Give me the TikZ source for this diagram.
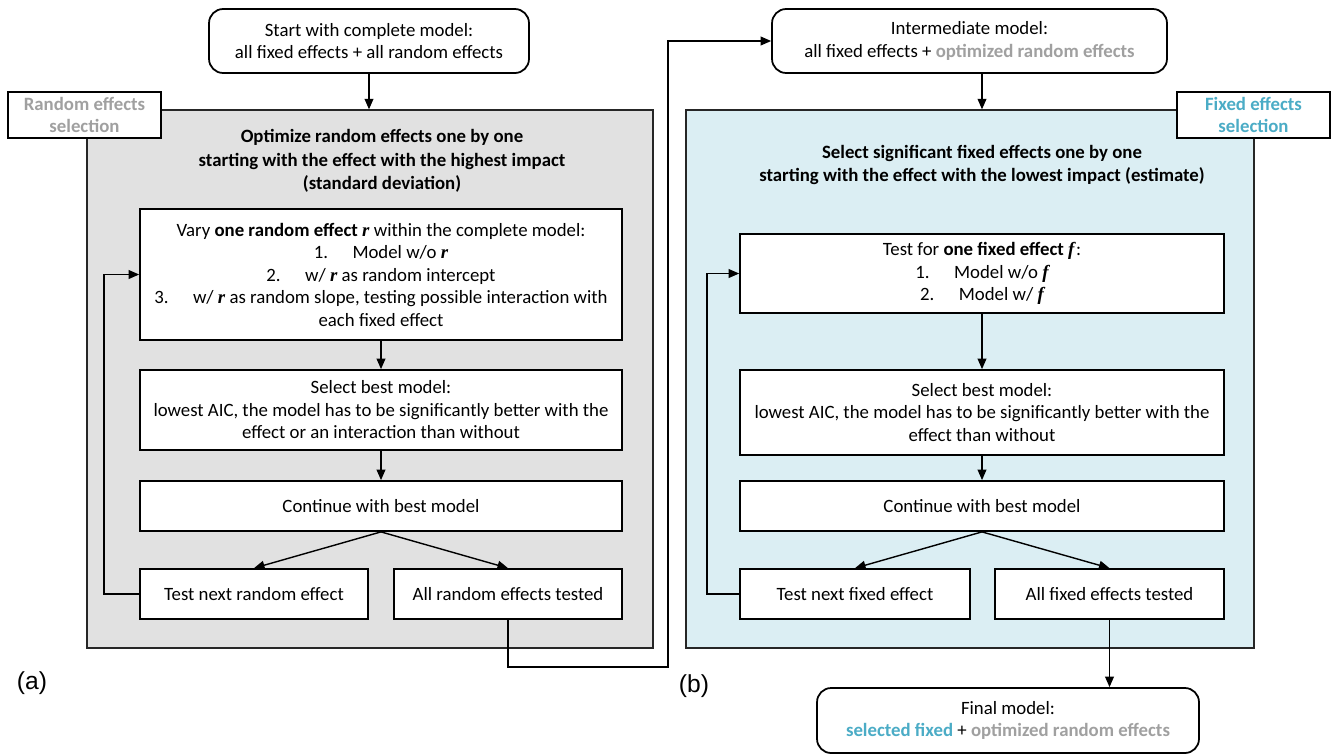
\documentclass[tikz,border=0pt]{standalone}
\usepackage{fontspec}
\setmainfont{Carlito}
\newfontfamily\varfont{Liberation Serif}
\newfontfamily\panelfont{Liberation Sans}
\usetikzlibrary{arrows.meta}

\definecolor{panelgray}{HTML}{E1E1E1}
\definecolor{panelblue}{HTML}{DBEEF3}
\definecolor{labelgray}{HTML}{A0A0A0}
\definecolor{labelblue}{HTML}{4BACC6}
\newcommand{\effvar}[1]{{\varfont\bfseries\itshape #1}}

\begin{document}
\begin{tikzpicture}[x=0.02cm, y=-0.02cm, >={Triangle[length=6pt,width=5pt]},
    every node/.style={font=\fontsize{10.7}{12.8}\selectfont, align=center, inner sep=2pt},
    box/.style={draw, line width=1pt, fill=white, minimum height=1cm},
    modelbox/.style={box, rounded corners=8pt, minimum height=1.28cm},
    panel/.style={draw=black!85, line width=0.8pt},
    tagbox/.style={draw, line width=1pt, fill=white, minimum width=3.06cm, minimum height=0.92cm,
      font=\fontsize{10.7}{12.8}\selectfont\bfseries},
    titletext/.style={font=\fontsize{10.7}{13.3}\selectfont\bfseries},
    flow/.style={line width=0.8pt}]
  \useasboundingbox (0,0) rectangle (1331,755);

  % Panels
  \node[panel, fill=panelgray, minimum width=11.32cm, minimum height=10.76cm] (randpanel) at (370,379) {};
  \node[panel, fill=panelblue, minimum width=11.36cm, minimum height=10.76cm] (fixpanel) at (970,379) {};
  \node[tagbox, text=labelgray] (randtag) at (84.5,115) {Random effects\\selection};
  \node[tagbox, text=labelblue] (fixtag) at (1253.5,115) {Fixed effects\\selection};

  % Models outside the panels
  \node[modelbox, minimum width=6.4cm] (start) at (369,41)
    {Start with complete model:\\all fixed effects + all random effects};
  \node[modelbox, minimum width=7.9cm] (inter) at (969.5,41)
    {Intermediate model:\\all fixed effects + \textcolor{labelgray}{\bfseries optimized random effects}};
  \node[modelbox, minimum width=7.64cm, minimum height=1.3cm] (final) at (1008,720.5)
    {Final model:\\\textcolor{labelblue}{\bfseries selected fixed} + \textcolor{labelgray}{\bfseries optimized random effects}};

  % Random effects selection
  \node[titletext] (randtitle) at (382,161)
    {Optimize random effects one by one\\starting with the effect with the highest impact\\(standard deviation)};
  \node[box, minimum width=9.64cm, minimum height=2.62cm] (vary) at (381,274.5)
    {Vary \textbf{one random effect \effvar{r}} within the complete model:\\
     1.\hspace{1.3em}Model w/o \effvar{r}\\
     2.\hspace{1.3em}w/ \effvar{r} as random intercept\\
     3.\hspace{1.3em}w/ \effvar{r} as random slope, testing possible interaction with\\
     each fixed effect};
  \node[box, minimum width=9.64cm, minimum height=1.6cm] (randbest) at (381,410)
    {Select best model:\\lowest AIC, the model has to be significantly better with the\\effect or an interaction than without};
  \node[box, minimum width=9.64cm] (randcont) at (381,506) {Continue with best model};
  \node[box, minimum width=4.56cm] (randnext) at (254,594) {Test next random effect};
  \node[box, minimum width=4.56cm] (randdone) at (508,594) {All random effects tested};

  % Fixed effects selection
  \node[titletext] (fixtitle) at (982,165)
    {Select significant fixed effects one by one\\starting with the effect with the lowest impact (estimate)};
  \node[box, minimum width=9.68cm, minimum height=1.58cm] (fixtest) at (982,273.5)
    {Test for \textbf{one fixed effect \effvar{f}}:\\
     1.\hspace{1.3em}Model w/o \effvar{f}\\
     2.\hspace{1.3em}Model w/ \effvar{f}};
  \node[box, minimum width=9.68cm, minimum height=1.7cm] (fixbest) at (982,412.5)
    {Select best model:\\lowest AIC, the model has to be significantly better with the\\effect than without};
  \node[box, minimum width=9.68cm] (fixcont) at (982,506) {Continue with best model};
  \node[box, minimum width=4.6cm] (fixnext) at (855,594) {Test next fixed effect};
  \node[box, minimum width=4.58cm] (fixdone) at (1109.5,594) {All fixed effects tested};

  % Panel letters
  \node[font=\fontsize{14}{16}\panelfont] (alabel) at (32,683) {(a)};
  \node[font=\fontsize{14}{16}\panelfont] (blabel) at (694,686) {(b)};

  % Connectors
  \coordinate (bend) at (668,667);
  \draw[flow, ->] (start.south) -- (start.south |- randpanel.north);
  \draw[flow, ->] (vary) -- (randbest);
  \draw[flow, ->] (randbest) -- (randcont);
  \draw[flow, ->] (randcont.south) -- (randnext.north);
  \draw[flow, ->] (randcont.south) -- (randdone.north);
  \draw[flow, ->] (randnext.west) -- ++(-35,0) |- (vary.west);
  \draw[flow, ->] (randdone.south) |- (bend) |- (inter.west);
  \draw[flow, ->] (inter.south -| fixtest.north) -- (fixtest.north |- fixpanel.north);
  \draw[flow, ->] (fixtest) -- (fixbest);
  \draw[flow, ->] (fixbest) -- (fixcont);
  \draw[flow, ->] (fixcont.south) -- (fixnext.north);
  \draw[flow, ->] (fixcont.south) -- (fixdone.north);
  \draw[flow, ->] (fixnext.west) -- ++(-32,0) |- (fixtest.west);
  \draw[flow, ->] (fixdone.south) -- (fixdone.south |- final.north);
\end{tikzpicture}
\end{document}
